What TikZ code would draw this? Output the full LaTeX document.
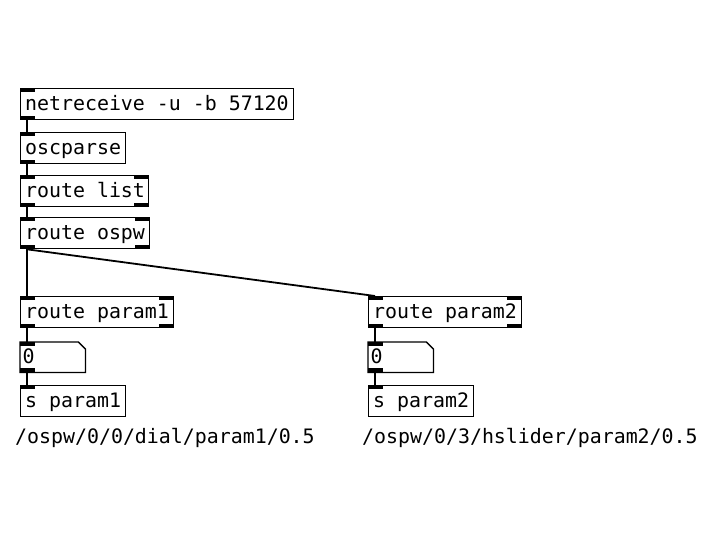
\documentclass[tikz,border=0pt]{standalone}
\usepackage{fontspec}
\setmonofont{DejaVu Sans Mono}
\usetikzlibrary{calc}
\newcommand{\pdfont}{\ttfamily\fontsize{19.9pt}{22pt}\selectfont}
\tikzset{
  pdbox/.style={draw=black, line width=1.3pt, anchor=north west, inner sep=0pt,
    minimum height=31pt, font=\pdfont, text height=15pt, text depth=2pt},
  pdnum/.style={anchor=north west, inner sep=0pt, minimum height=30pt, font=\pdfont},
  pdlabel/.style={anchor=west, inner sep=0pt, font=\pdfont},
  pdwire/.style={line width=1.8pt},
  iolet/.style={fill=black}
}
\begin{document}
\begin{tikzpicture}[x=1pt,y=-1pt]
\useasboundingbox[fill=white] (0,0) rectangle (714,536);
% boxes: name, left, top, width, text
\newcommand{\pdobj}[5]{%
  \node[pdbox] (#1) at (#2,#3) {\makebox[#4pt][l]{\hspace*{4.5pt}#5}};}
\pdobj{nr}{20}{88}{273}{netreceive -u -b 57120}
\pdobj{op}{20}{132}{105}{oscparse}
\pdobj{rl}{20}{175}{128}{route list}
\pdobj{ro}{20}{217}{129}{route ospw}
\pdobj{rpa}{20}{296}{153}{route param1}
\pdobj{sa}{20}{385}{105}{s param1}
\pdobj{rpb}{368}{296}{153}{route param2}
\pdobj{sb}{368}{385}{105}{s param2}
% number boxes
\node[pdnum, minimum width=65pt] (na) at (20,342) {};
\node[pdnum, minimum width=65pt] (nb) at (368,342) {};
\foreach \n in {na,nb}{
  \draw[line width=1.3pt] (\n.north west) -- ($(\n.north east)+(-7,0)$) -- ($(\n.north east)+(0,7)$)
     -- (\n.south east) -- (\n.south west) -- cycle;
  \node[anchor=west, inner sep=0pt, font=\pdfont, text height=15pt, text depth=2pt] at ($(\n.west)+(2.5,0)$) {0};
}
% inlets (left)
\foreach \n in {nr,op,rl,ro,rpa,sa,rpb,sb,na,nb}{
  \fill[iolet] (\n.north west) rectangle ++(15,4);
}
% outlets (left)
\foreach \n in {nr,op,rl,ro,rpa,rpb,na,nb}{
  \fill[iolet] (\n.south west) rectangle ++(15,-4);
}
% right inlets/outlets of route objects
\foreach \n in {rl,ro,rpa,rpb}{
  \fill[iolet] (\n.north east) rectangle ++(-15,4);
  \fill[iolet] (\n.south east) rectangle ++(-15,-4);
}
% wires
\draw[pdwire] ($(nr.south west)+(7,0)$) -- ($(op.north west)+(7,0)$);
\draw[pdwire] ($(op.south west)+(7,0)$) -- ($(rl.north west)+(7,0)$);
\draw[pdwire] ($(rl.south west)+(7,0)$) -- ($(ro.north west)+(7,0)$);
\draw[pdwire] ($(ro.south west)+(7,0)$) -- ($(rpa.north west)+(7,0)$);
\draw[pdwire] ($(ro.south west)+(7,0)$) -- ($(rpb.north west)+(7,0)$);
\draw[pdwire] ($(rpa.south west)+(7,0)$) -- ($(na.north west)+(7,0)$);
\draw[pdwire] ($(na.south west)+(7,0)$) -- ($(sa.north west)+(7,0)$);
\draw[pdwire] ($(rpb.south west)+(7,0)$) -- ($(nb.north west)+(7,0)$);
\draw[pdwire] ($(nb.south west)+(7,0)$) -- ($(sb.north west)+(7,0)$);
% comments
\node[pdlabel] (ca) at (15,438) {/ospw/0/0/dial/param1/0.5};
\node[pdlabel] (cb) at (362,438) {/ospw/0/3/hslider/param2/0.5};
\end{tikzpicture}
\end{document}
